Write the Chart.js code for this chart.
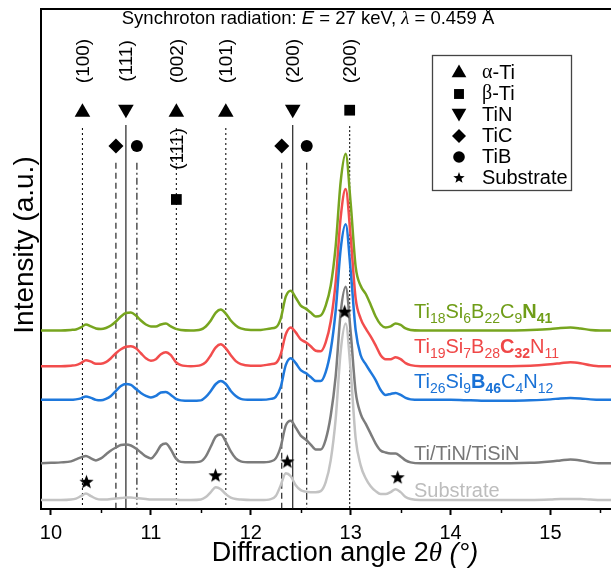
<!DOCTYPE html>
<html>
<head>
<meta charset="utf-8">
<script src="https://cdn.jsdelivr.net/npm/chart.js@4.4.1/dist/chart.umd.min.js"></script>
<style>
html,body{margin:0;padding:0;background:#fff;overflow:hidden;}
canvas{display:block;}
</style>
</head>
<body>
<canvas id="xrd" width="625" height="573"></canvas>
<script>
// 2θ grid shared by all patterns (degrees)
const twoTheta = [9.90,10.00,10.10,10.20,10.25,10.30,10.35,10.40,10.45,10.50,
  10.55,10.60,10.65,10.70,10.75,10.80,10.85,10.90,10.95,11.00,
  11.05,11.10,11.15,11.20,11.25,11.30,11.40,11.50,11.55,11.60,
  11.65,11.70,11.75,11.80,11.85,11.90,12.00,12.10,12.20,12.25,
  12.30,12.35,12.40,12.45,12.50,12.55,12.60,12.65,12.70,12.75,
  12.80,12.85,12.90,12.95,13.00,13.05,13.10,13.15,13.20,13.25,
  13.30,13.35,13.40,13.45,13.50,13.55,13.60,13.70,13.80,14.00,
  14.20,14.40,14.60,14.80,15.00,15.10,15.20,15.30,15.40,15.50,15.70];

// Intensity of each pattern above its own baseline (a.u.)
const iTi18Si6B22C9N41 = [0,0,0,0.5,1,3,6,4,2,1.5, 2.5,5,9,14,17.5,18,15,10,6,4,
  4,6,7,4,1.5,0.5,0,1,4,10, 18,21,17,10,5,2,0.5,0.5,2,3,
  12,34,40,33,25,22,18,14,15,25, 45,85,150,178,128,64,45,37,26,14,
  6,3,4,7,5.5,2,0.5,0,0,0, 0,0,0,0.5,1.5,2.5,3,2,0.5,0, 0];
const iTi19Si7B28C32N11 = [0,0,0,0.5,1,3,6,4.5,2.5,2.5, 4,8,13,17,19.5,20,18,13,8,5.5,
  7,12,14,11,4,1,0,1,4,11, 19,22,18,11,5,2,0.5,0.5,2,3,
  12,32,39,34,27,24,20,15.5,15,24, 45,85,150,178.5,130,68,48,38,30,21,
  11,7,7,9,7,3,1,0,0,0, 0,0,0,0.5,2,3,4,3,1,0, 0];
const iTi26Si9B46C4N12 = [0,0,0,0,0.5,1.5,3.5,2,0,-0.5, 1,4,9,14,16,15,11,7,4,2.5,
  4,7.5,8,5,1,-0.5,-1,-0.5,3,9, 16,19,16,9,4,1,0,0,1,3,
  13,35,42,37,30,27,23,19,19,28, 50,90,152,177,130,70,45,36,28,20,
  10,5,6,7,5,2,0.5,0,0,0, -0.5,-1,-1,-0.5,0.5,1.5,2,1.5,0.5,0, 0];
const iTiTiNTiSiN = [0,0.5,1,2,4,6,7.5,5,3,5, 9,13,16,18.5,19,18,15,11,7,5,
  10,18,20,14,5,1.5,1,2,7,17, 27,29,22,12,5,2,1,1,2,5,
  17,38,43,36,28,24,19,14,14,24, 48,88,152,178,132,72,50,40,30,20,
  13,11,10,10,7,3,1,0,0,0, 0,0,0,0.5,2,3,4,3,1,0, 0];
const iSubstrate = [0,0,0,0.5,1.5,4,6.5,4,1.5,0.5, 0.5,1,1.5,2,2.5,2.5,2,1.5,1,0.5,
  0.5,0.5,0.5,0.5,0.5,0,0,0.5,3,8, 13,11,6,2.5,1,0.5,0,0,1,4,
  15,27,24,15,10,8.5,8,8,9,18, 40,82,150,178,130,62,35,22,14,9,
  6,6,8,11,8,3,1,0,0,0, 0,0,0,0,0.5,1,1,1,0.5,0, 0];

// Vertical stacking offsets of the patterns (a.u.)
const offsets = [180, 144, 110, 46, 9];

// Reference reflections (2θ, degrees) and their indices
const alphaTiPeaks = [10.315, 11.255, 11.75];
const alphaTiHkl = ['(100)', '(002)', '(101)'];
const tinPeaks = [10.75, 12.42];
const tinHkl = ['(111)', '(200)'];
const betaTiPeaks = [11.255, 12.99];
const betaTiHkl = ['(111)', '(200)'];
const ticPeaks = [10.65, 12.31];
const tibPeaks = [10.86, 12.56];
const substratePeaks = [10.355, 11.647, 12.366, 12.94, 13.47];
const xTicks = [10, 11, 12, 13, 14, 15];

const SANS = '"Liberation Sans", Arial, sans-serif';
const SERIF = '"Liberation Serif", "Times New Roman", serif';

const colors = ['#77a51f', '#f24d4d', '#1e78dc', '#7c7c7c', '#c3c3c3'];
const labelColors = ['#6f9d18', '#ef4747', '#1a72d6', '#777777', '#bdbdbd'];

// filled five-point star used for substrate reflections
function makeStar(r) {
  const s = Math.ceil(r * 2 + 2);
  const c = document.createElement('canvas');
  c.width = s; c.height = s;
  const g = c.getContext('2d');
  g.beginPath();
  for (let k = 0; k < 10; k++) {
    const rr = k % 2 ? r * 0.42 : r;
    const a = -Math.PI / 2 + k * Math.PI / 5;
    g.lineTo(s / 2 + rr * Math.cos(a), s / 2 + rr * Math.sin(a));
  }
  g.closePath();
  g.fillStyle = '#000';
  g.fill();
  return c;
}
const starBig = makeStar(7.5);
const starSmall = makeStar(6);

const patterns = [iTi18Si6B22C9N41, iTi19Si7B28C32N11, iTi26Si9B46C4N12, iTiTiNTiSiN, iSubstrate];

const datasets = [];

// reference lines drawn from just below their marker down to the axis
function refLines(peaks, dash, top) {
  peaks.forEach(p => {
    datasets.push({
      type: 'line', order: 20,
      data: [{x: p, y: top}, {x: p, y: 0}],
      borderColor: '#111', borderWidth: 1.1, borderDash: dash,
      pointRadius: 0, fill: false
    });
  });
}
refLines(alphaTiPeaks, [2, 3], 384);
refLines(betaTiPeaks.filter(p => !alphaTiPeaks.includes(p)), [2, 2], 386);
refLines(tinPeaks, [], 387);
refLines(ticPeaks, [6, 4], 349);
refLines(tibPeaks, [7, 3, 2, 3], 349);

patterns.forEach((arr, k) => {
  datasets.push({
    type: 'line', order: 10 - k,
    data: twoTheta.map((x, i) => ({x, y: arr[i] + offsets[k]})),
    borderColor: colors[k], borderWidth: 2.5,
    pointRadius: 0, fill: false,
    cubicInterpolationMode: 'monotone'
  });
});

function markers(points, style, radius, rotation) {
  datasets.push({
    type: 'scatter', order: 0,
    data: points,
    pointStyle: style, pointRadius: radius, pointRotation: rotation || 0,
    pointBackgroundColor: '#000', pointBorderColor: '#000', pointBorderWidth: 0,
    pointHoverRadius: radius
  });
}
markers(alphaTiPeaks.map(x => ({x, y: 400})), 'triangle', 9);
markers(tinPeaks.map(x => ({x, y: 403})), 'triangle', 9, 180);
markers(betaTiPeaks.map((x, i) => ({x, y: i === 0 ? 312 : 402})), 'rect', 7.6);
markers(ticPeaks.map(x => ({x, y: 366})), 'rectRot', 7.5);
markers(tibPeaks.map(x => ({x, y: 366})), 'circle', 6);
// substrate stars sit a little above the substrate pattern's local maximum
markers(substratePeaks.map(p => {
  let m = 0;
  twoTheta.forEach((x, i) => { if (Math.abs(x - p) <= 0.05) m = Math.max(m, iSubstrate[i]); });
  return {x: p, y: offsets[4] + m + 11.5};
}), starBig, 7.5);

// rich text helpers
function font(style, size) {
  switch (style) {
    case 'b': return `bold ${size}px ${SANS}`;
    case 'i': return `italic ${size}px ${SANS}`;
    case 'g': return `${size}px ${SERIF}`;
    case 'gi': return `italic ${size}px ${SERIF}`;
    case 's': return `${Math.round(size * 0.72)}px ${SANS}`;
    case 'bs': return `bold ${Math.round(size * 0.72)}px ${SANS}`;
    default: return `${size}px ${SANS}`;
  }
}
function richWidth(ctx, segs, size) {
  let w = 0;
  segs.forEach(([t, st]) => { ctx.font = font(st, size); w += ctx.measureText(t).width; });
  return w;
}
function drawRich(ctx, segs, x, y, size, color, align) {
  let cx = x;
  if (align === 'center') cx = x - richWidth(ctx, segs, size) / 2;
  ctx.fillStyle = color;
  ctx.textAlign = 'left';
  segs.forEach(([t, st]) => {
    ctx.font = font(st, size);
    const dy = (st === 's' || st === 'bs') ? size * 0.26 : 0;
    ctx.fillText(t, cx, y + dy);
    cx += ctx.measureText(t).width;
  });
}

const curveLabels = [
  [['Ti','n'],['18','s'],['Si','n'],['6','s'],['B','n'],['22','s'],['C','n'],['9','s'],['N','b'],['41','bs']],
  [['Ti','n'],['19','s'],['Si','n'],['7','s'],['B','n'],['28','s'],['C','b'],['32','bs'],['N','n'],['11','s']],
  [['Ti','n'],['26','s'],['Si','n'],['9','s'],['B','b'],['46','bs'],['C','n'],['4','s'],['N','n'],['12','s']],
  [['Ti/TiN/TiSiN','n']],
  [['Substrate','n']]
];
const curveLabelBaselines = [318, 353, 388, 460, 497];

const legendItems = [
  {style: 'triangle', r: 8.5, rot: 0, text: [['α','g'],['-Ti','n']]},
  {style: 'rect', r: 7, rot: 0, text: [['β','g'],['-Ti','n']]},
  {style: 'triangle', r: 8.5, rot: 180, text: [['TiN','n']]},
  {style: 'rectRot', r: 7, rot: 0, text: [['TiC','n']]},
  {style: 'circle', r: 5.8, rot: 0, text: [['TiB','n']]},
  {style: starSmall, r: 6, rot: 0, text: [['Substrate','n']]}
];

const annotations = {
  id: 'annotations',
  afterDatasetsDraw(chart) {
    const ctx = chart.ctx;
    const xs = chart.scales.x;
    ctx.save();

    // minor ticks at half degrees
    ctx.strokeStyle = '#000';
    ctx.lineWidth = 1.5;
    for (let v = 10.5; v < xs.max; v += 1) {
      const px = Math.round(xs.getPixelForValue(v)) + 0.5;
      ctx.beginPath();
      ctx.moveTo(px, chart.chartArea.bottom);
      ctx.lineTo(px, chart.chartArea.bottom + 4);
      ctx.stroke();
    }

    // title
    drawRich(ctx, [['Synchroton radiation: ','n'],['E','i'],[' = 27 keV, ','n'],['λ','gi'],[' = 0.459 Å','n']],
      308, 24, 18.5, '#000', 'center');

    // Miller indices above the markers
    const hkl = [];
    alphaTiPeaks.forEach((p, i) => hkl.push([p, alphaTiHkl[i], 61]));
    tinPeaks.forEach((p, i) => hkl.push([p, tinHkl[i], 61]));
    hkl.push([betaTiPeaks[1], betaTiHkl[1], 61]);
    hkl.push([betaTiPeaks[0], betaTiHkl[0], 149]);
    ctx.fillStyle = '#000';
    ctx.font = `19px ${SANS}`;
    ctx.textAlign = 'center';
    ctx.textBaseline = 'middle';
    hkl.forEach(([p, t, y]) => {
      ctx.save();
      ctx.translate(xs.getPixelForValue(p) + 1, y);
      ctx.rotate(-Math.PI / 2);
      ctx.fillText(t, 0, 0);
      ctx.restore();
    });

    // pattern names
    ctx.textBaseline = 'alphabetic';
    curveLabels.forEach((segs, k) => {
      drawRich(ctx, segs, 414, curveLabelBaselines[k], 20, labelColors[k]);
    });

    // legend box
    ctx.strokeStyle = '#444';
    ctx.lineWidth = 1.3;
    ctx.strokeRect(432.5, 55.5, 139, 135);
    legendItems.forEach((it, i) => {
      const y = 72 + i * 21;
      ctx.fillStyle = '#000';
      ctx.strokeStyle = '#000';
      Chart.helpers.drawPoint(ctx, {pointStyle: it.style, radius: it.r, rotation: it.rot, borderWidth: 0}, 459, y + (it.rot ? -1 : 1));
      ctx.textBaseline = 'middle';
      drawRich(ctx, it.text, 482, y + 1, 20, '#000');
    });

    // axis titles
    ctx.textBaseline = 'middle';
    drawRich(ctx, [['Diffraction angle 2','n'],['θ','gi'],[' (°)','i']], 345, 554, 27, '#000', 'center');
    ctx.save();
    ctx.translate(25, 245);
    ctx.rotate(-Math.PI / 2);
    drawRich(ctx, [['Intensity (a.u.)','n']], 0, 0, 28, '#000', 'center');
    ctx.restore();

    ctx.restore();
  }
};

new Chart(document.getElementById('xrd'), {
  data: {datasets},
  options: {
    responsive: false,
    animation: false,
    devicePixelRatio: 1,
    layout: {padding: {left: 0, right: 5, top: 0, bottom: 0}},
    plugins: {legend: {display: false}, tooltip: {enabled: false}},
    events: [],
    scales: {
      x: {
        type: 'linear', position: 'bottom', min: 9.9, max: 15.656,
        afterBuildTicks: s => { s.ticks = xTicks.map(v => ({value: v})); },
        afterFit: s => { s.height = 64; },
        ticks: {color: '#000', font: {family: SANS, size: 20}, padding: 6, maxRotation: 0,
          callback: v => String(v)},
        grid: {display: true, drawOnChartArea: false, drawTicks: true, tickLength: 6, tickWidth: 2, tickColor: '#000'},
        border: {display: true, color: '#000', width: 2}
      },
      x2: {
        type: 'linear', position: 'top', min: 9.9, max: 15.656,
        afterFit: s => { s.height = 5; },
        ticks: {display: false},
        grid: {display: false},
        border: {display: true, color: '#000', width: 2}
      },
      y: {
        type: 'linear', min: 0, max: 504,
        afterFit: s => { s.width = 41; },
        ticks: {display: false},
        grid: {display: false},
        border: {display: true, color: '#000', width: 2}
      }
    }
  },
  plugins: [annotations]
});
</script>
</body>
</html>
